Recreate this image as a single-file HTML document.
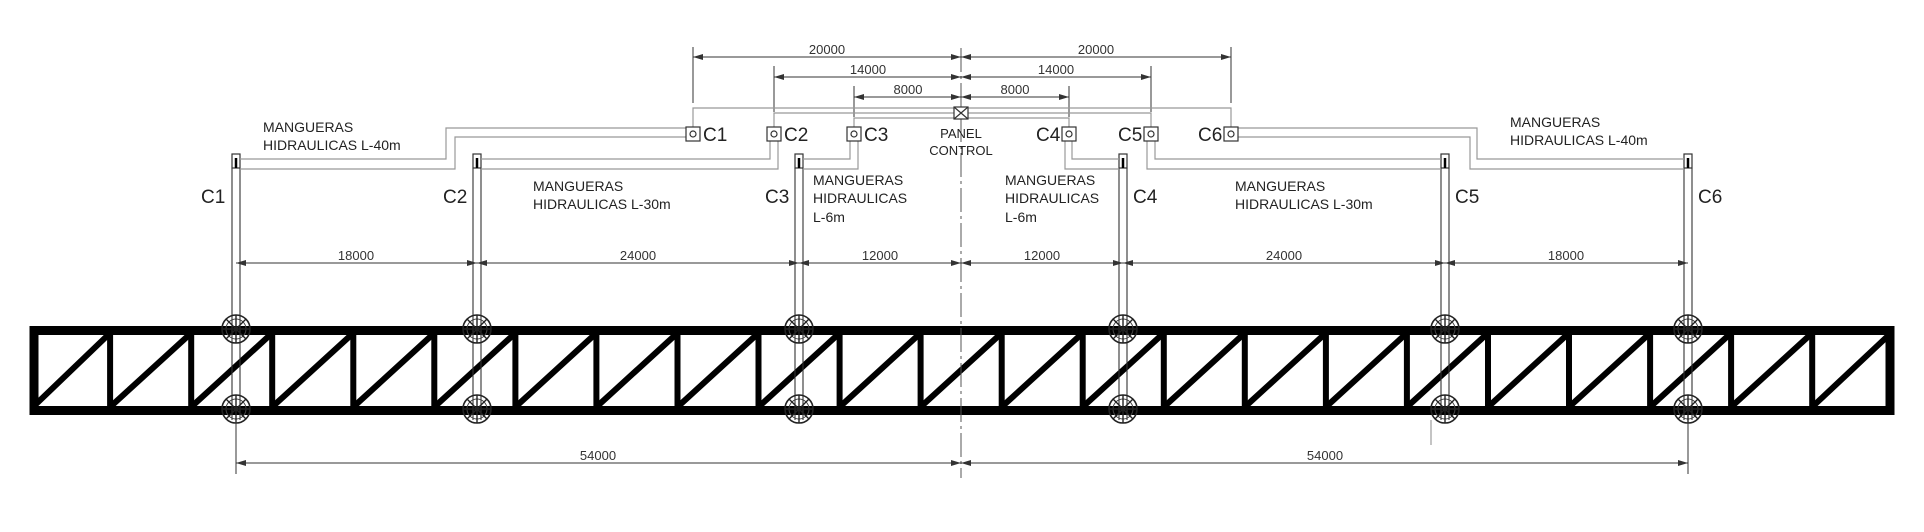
<!DOCTYPE html>
<html><head><meta charset="utf-8"><style>
html,body{margin:0;padding:0;background:#fff;}
svg{display:block;font-family:"Liberation Sans",sans-serif;}
</style></head><body>
<svg width="1924" height="532" viewBox="0 0 1924 532" xmlns="http://www.w3.org/2000/svg">
<defs>
<marker id="a" viewBox="0 0 10 6" refX="10" refY="3" markerWidth="10" markerHeight="6" orient="auto-start-reverse" markerUnits="userSpaceOnUse"><path d="M0,0 L10,3 L0,6 z" fill="#333"/></marker>
<g id="wheel"><circle r="14" fill="none" stroke="#222" stroke-width="1.6"/><circle r="10" fill="none" stroke="#444" stroke-width="1"/><path d="M-14,0H14M0,-14V14M-10,-10L10,10M-10,10L10,-10" stroke="#222" stroke-width="1.4"/></g>
</defs>

<!-- truss -->
<g stroke="#000" fill="none">
<rect x="34" y="330.5" width="1856" height="80" stroke-width="9"/>
</g>
<g stroke="#000" stroke-width="6">
<line x1="110.1" y1="333" x2="110.1" y2="407"/><line x1="191.2" y1="333" x2="191.2" y2="407"/><line x1="272.2" y1="333" x2="272.2" y2="407"/><line x1="353.3" y1="333" x2="353.3" y2="407"/><line x1="434.3" y1="333" x2="434.3" y2="407"/><line x1="515.4" y1="333" x2="515.4" y2="407"/><line x1="596.4" y1="333" x2="596.4" y2="407"/><line x1="677.5" y1="333" x2="677.5" y2="407"/><line x1="758.5" y1="333" x2="758.5" y2="407"/><line x1="839.6" y1="333" x2="839.6" y2="407"/><line x1="920.6" y1="333" x2="920.6" y2="407"/><line x1="1001.7" y1="333" x2="1001.7" y2="407"/><line x1="1082.7" y1="333" x2="1082.7" y2="407"/><line x1="1163.8" y1="333" x2="1163.8" y2="407"/><line x1="1244.8" y1="333" x2="1244.8" y2="407"/><line x1="1325.9" y1="333" x2="1325.9" y2="407"/><line x1="1406.9" y1="333" x2="1406.9" y2="407"/><line x1="1488" y1="333" x2="1488" y2="407"/><line x1="1569" y1="333" x2="1569" y2="407"/><line x1="1650.1" y1="333" x2="1650.1" y2="407"/><line x1="1731.1" y1="333" x2="1731.1" y2="407"/><line x1="1812.2" y1="333" x2="1812.2" y2="407"/>
<line x1="33" y1="407" x2="110.1" y2="333"/><line x1="110.1" y1="407" x2="191.2" y2="333"/><line x1="191.2" y1="407" x2="272.2" y2="333"/><line x1="272.2" y1="407" x2="353.3" y2="333"/><line x1="353.3" y1="407" x2="434.3" y2="333"/><line x1="434.3" y1="407" x2="515.4" y2="333"/><line x1="515.4" y1="407" x2="596.4" y2="333"/><line x1="596.4" y1="407" x2="677.5" y2="333"/><line x1="677.5" y1="407" x2="758.5" y2="333"/><line x1="758.5" y1="407" x2="839.6" y2="333"/><line x1="839.6" y1="407" x2="920.6" y2="333"/><line x1="920.6" y1="407" x2="1001.7" y2="333"/><line x1="1001.7" y1="407" x2="1082.7" y2="333"/><line x1="1082.7" y1="407" x2="1163.8" y2="333"/><line x1="1163.8" y1="407" x2="1244.8" y2="333"/><line x1="1244.8" y1="407" x2="1325.9" y2="333"/><line x1="1325.9" y1="407" x2="1406.9" y2="333"/><line x1="1406.9" y1="407" x2="1488" y2="333"/><line x1="1488" y1="407" x2="1569" y2="333"/><line x1="1569" y1="407" x2="1650.1" y2="333"/><line x1="1650.1" y1="407" x2="1731.1" y2="333"/><line x1="1731.1" y1="407" x2="1812.2" y2="333"/><line x1="1812.2" y1="407" x2="1891" y2="333"/>
</g>

<!-- center line -->
<line x1="961" y1="48" x2="961" y2="478" stroke="#555" stroke-width="1" stroke-dasharray="24,4,3,4"/>

<!-- columns -->
<g stroke="#333" stroke-width="1.2" fill="#fff">
<rect x="232" y="154" width="8" height="14"/><rect x="473" y="154" width="8" height="14"/><rect x="795" y="154" width="8" height="14"/><rect x="1119" y="154" width="8" height="14"/><rect x="1441" y="154" width="8" height="14"/><rect x="1684" y="154" width="8" height="14"/>
</g>
<g stroke="#000" stroke-width="2.5"><line x1="236" y1="158" x2="236" y2="168"/><line x1="477" y1="158" x2="477" y2="168"/><line x1="799" y1="158" x2="799" y2="168"/><line x1="1123" y1="158" x2="1123" y2="168"/><line x1="1445" y1="158" x2="1445" y2="168"/><line x1="1688" y1="158" x2="1688" y2="168"/></g>
<g stroke="#333" stroke-width="1.1">
<path d="M232,168V420M240,168V420M473,168V420M481,168V420M795,168V420M803,168V420M1119,168V420M1127,168V420M1441,168V420M1449,168V420M1684,168V420M1692,168V420"/>
</g>
<g>
<use href="#wheel" x="236" y="329"/><use href="#wheel" x="236" y="409"/>
<use href="#wheel" x="477" y="329"/><use href="#wheel" x="477" y="409"/>
<use href="#wheel" x="799" y="329"/><use href="#wheel" x="799" y="409"/>
<use href="#wheel" x="1123" y="329"/><use href="#wheel" x="1123" y="409"/>
<use href="#wheel" x="1445" y="329"/><use href="#wheel" x="1445" y="409"/>
<use href="#wheel" x="1688" y="329"/><use href="#wheel" x="1688" y="409"/>
</g>
<line x1="1431" y1="420" x2="1431" y2="445" stroke="#888" stroke-width="1"/>

<g font-size="19" fill="#222">
<text x="201" y="203">C1</text><text x="443" y="203">C2</text><text x="765" y="203">C3</text>
<text x="1133" y="203">C4</text><text x="1455" y="203">C5</text><text x="1698" y="203">C6</text>
</g>

<!-- mid dimensions -->
<g stroke="#333" stroke-width="1">
<line x1="236" y1="263" x2="477" y2="263" marker-start="url(#a)" marker-end="url(#a)"/>
<line x1="477" y1="263" x2="799" y2="263" marker-start="url(#a)" marker-end="url(#a)"/>
<line x1="799" y1="263" x2="961" y2="263" marker-start="url(#a)" marker-end="url(#a)"/>
<line x1="961" y1="263" x2="1123" y2="263" marker-start="url(#a)" marker-end="url(#a)"/>
<line x1="1123" y1="263" x2="1445" y2="263" marker-start="url(#a)" marker-end="url(#a)"/>
<line x1="1445" y1="263" x2="1688" y2="263" marker-start="url(#a)" marker-end="url(#a)"/>
<line x1="236" y1="463" x2="961" y2="463" marker-start="url(#a)" marker-end="url(#a)"/>
<line x1="961" y1="463" x2="1688" y2="463" marker-start="url(#a)" marker-end="url(#a)"/>
<line x1="236" y1="420" x2="236" y2="474"/><line x1="1688" y1="420" x2="1688" y2="474"/>
</g>
<g font-size="13" fill="#333" text-anchor="middle">
<text x="356" y="260">18000</text><text x="638" y="260">24000</text><text x="880" y="260">12000</text>
<text x="1042" y="260">12000</text><text x="1284" y="260">24000</text><text x="1566" y="260">18000</text>
<text x="598" y="460">54000</text><text x="1325" y="460">54000</text>
</g>

<!-- top dimensions -->
<g stroke="#333" stroke-width="1">
<line x1="693" y1="57" x2="961" y2="57" marker-start="url(#a)" marker-end="url(#a)"/>
<line x1="961" y1="57" x2="1231" y2="57" marker-start="url(#a)" marker-end="url(#a)"/>
<line x1="774" y1="77" x2="961" y2="77" marker-start="url(#a)" marker-end="url(#a)"/>
<line x1="961" y1="77" x2="1151" y2="77" marker-start="url(#a)" marker-end="url(#a)"/>
<line x1="854" y1="97" x2="961" y2="97" marker-start="url(#a)" marker-end="url(#a)"/>
<line x1="961" y1="97" x2="1069" y2="97" marker-start="url(#a)" marker-end="url(#a)"/>
<path d="M693,47V103M774,66V112M854,86V117M1069,86V117M1151,66V112M1231,47V103" fill="none"/>
</g>
<g font-size="13" fill="#333" text-anchor="middle">
<text x="827" y="54">20000</text><text x="1096" y="54">20000</text>
<text x="868" y="74">14000</text><text x="1056" y="74">14000</text>
<text x="908" y="94">8000</text><text x="1015" y="94">8000</text>
</g>

<!-- hoses -->
<g stroke="#999" stroke-width="1.2" fill="none">
<path d="M955,108H693V127M955,113H774V127M955,118H854V127"/>
<path d="M967,108H1231V127M967,113H1151V127M967,118H1069V127"/>
<path d="M700,128H446V159H240"/><path d="M700,137H455V169H240"/>
<path d="M770,141V159H481"/><path d="M778,141V169H481"/>
<path d="M850,141V159H803"/><path d="M858,141V169H803"/>
<path d="M1072,141V159H1119"/><path d="M1065,141V169H1119"/>
<path d="M1155,141V159H1441"/><path d="M1147,141V169H1441"/>
<path d="M1224,128H1477V159H1684"/><path d="M1224,137H1470V169H1684"/>
</g>
<g stroke="#333" stroke-width="1.2" fill="#fff">
<rect x="954" y="107" width="14" height="12"/>
<path d="M954,107L968,119M954,119L968,107" fill="none"/>
</g>
<g font-size="13" fill="#222" text-anchor="middle"><text x="961" y="138">PANEL</text><text x="961" y="155">CONTROL</text></g>
<g stroke="#333" stroke-width="1.2" fill="#fff">
<rect x="686" y="127" width="14" height="14"/><rect x="767" y="127" width="14" height="14"/><rect x="847" y="127" width="14" height="14"/>
<rect x="1062" y="127" width="14" height="14"/><rect x="1144" y="127" width="14" height="14"/><rect x="1224" y="127" width="14" height="14"/>
<circle cx="693" cy="134" r="3"/><circle cx="774" cy="134" r="3"/><circle cx="854" cy="134" r="3"/>
<circle cx="1069" cy="134" r="3"/><circle cx="1151" cy="134" r="3"/><circle cx="1231" cy="134" r="3"/>
</g>
<g font-size="19" fill="#222">
<text x="703" y="141">C1</text><text x="784" y="141">C2</text><text x="864" y="141">C3</text>
<text x="1036" y="141">C4</text><text x="1118" y="141">C5</text><text x="1198" y="141">C6</text>
</g>

<g font-size="14" fill="#222">
<text x="263" y="132">MANGUERAS</text><text x="263" y="150">HIDRAULICAS L-40m</text>
<text x="533" y="191">MANGUERAS</text><text x="533" y="209">HIDRAULICAS L-30m</text>
<text x="813" y="185">MANGUERAS</text><text x="813" y="203">HIDRAULICAS</text><text x="813" y="222">L-6m</text>
<text x="1005" y="185">MANGUERAS</text><text x="1005" y="203">HIDRAULICAS</text><text x="1005" y="222">L-6m</text>
<text x="1235" y="191">MANGUERAS</text><text x="1235" y="209">HIDRAULICAS L-30m</text>
<text x="1510" y="127">MANGUERAS</text><text x="1510" y="145">HIDRAULICAS L-40m</text>
</g>
</svg>
</body></html>
